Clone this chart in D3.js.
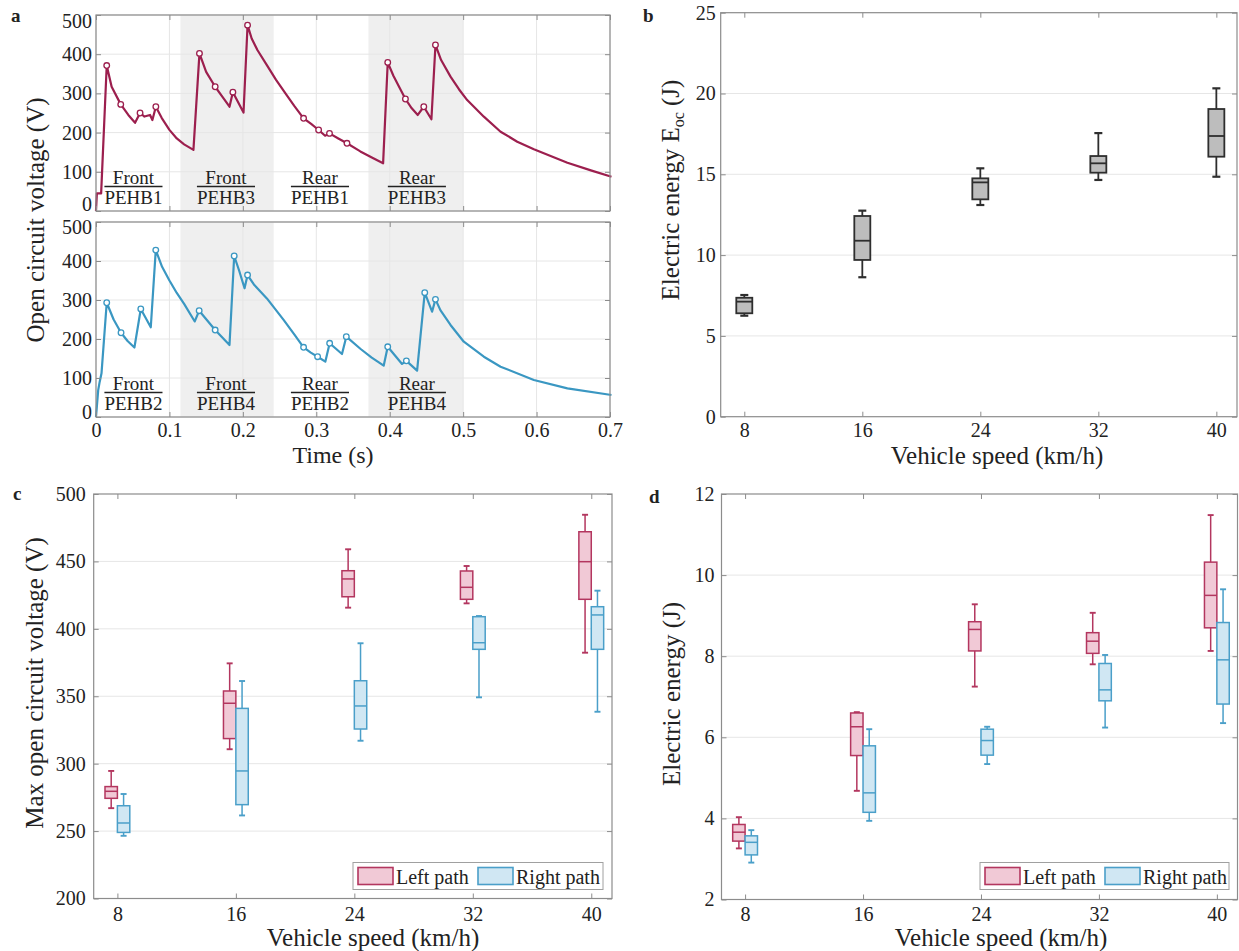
<!DOCTYPE html>
<html>
<head>
<meta charset="utf-8">
<script src="https://cdn.jsdelivr.net/npm/d3@7"></script>
<style>
  body { margin: 0; background: #fff; }
  text { font-family: "Liberation Serif", "Times New Roman", serif; fill: #222; }
</style>
</head>
<body>
<svg id="fig" width="1239" height="951"></svg>
<script>
// ---- panel a: open circuit voltage traces ----
const leftPathTime = [0, 0.0012, 0.007, 0.0146, 0.0213, 0.0337, 0.044, 0.0532, 0.06, 0.066, 0.0736, 0.0768, 0.0815, 0.0896, 0.1, 0.11, 0.12, 0.1327, 0.1409, 0.15, 0.1623, 0.172, 0.1818, 0.1864, 0.2009, 0.2064, 0.212, 0.22, 0.2327, 0.245, 0.258, 0.27, 0.2827, 0.293, 0.3032, 0.312, 0.318, 0.33, 0.3418, 0.36, 0.375, 0.391, 0.3973, 0.405, 0.4214, 0.43, 0.4382, 0.4464, 0.4568, 0.4623, 0.47, 0.4828, 0.4945, 0.5055, 0.5282, 0.551, 0.5737, 0.5963, 0.642, 0.675, 0.702];
const leftPathVolt = [0, 45, 45, 371, 317, 272, 245, 225, 250, 241, 245, 232, 266, 237, 207, 185, 170, 156, 402, 355, 317, 292, 266, 303, 251, 474, 440, 410, 372, 335, 300, 268, 236.5, 222, 206.6, 192, 198, 185, 172.7, 152, 137, 121.6, 379, 345, 285.7, 262, 245, 266, 234, 423.5, 385, 342.7, 310, 283, 240.6, 202.3, 176.8, 157.4, 123.2, 103, 87.5];
const leftMarkTime = [0.0146, 0.0337, 0.06, 0.0815, 0.1409, 0.1623, 0.1864, 0.2064, 0.2827, 0.3032, 0.318, 0.3418, 0.3973, 0.4214, 0.4464, 0.4623];
const leftMarkVolt = [371, 272, 250, 266, 402, 317, 303, 474, 236.5, 206.6, 198, 172.7, 379, 285.7, 266, 423.5];

const rightPathTime = [0, 0.003, 0.005, 0.0075, 0.0146, 0.024, 0.0341, 0.043, 0.0523, 0.061, 0.0746, 0.0814, 0.09, 0.1, 0.11, 0.12, 0.1345, 0.1405, 0.1623, 0.1818, 0.1882, 0.195, 0.2023, 0.2064, 0.215, 0.2327, 0.2555, 0.27, 0.2827, 0.2925, 0.3018, 0.3123, 0.3182, 0.335, 0.3409, 0.36, 0.375, 0.3918, 0.3973, 0.4168, 0.4227, 0.4373, 0.4477, 0.4577, 0.4623, 0.469, 0.4828, 0.5009, 0.5282, 0.551, 0.5963, 0.642, 0.702];
const rightPathVolt = [0, 69, 90, 112, 293, 250, 216, 195, 178, 277, 230, 428, 385, 350, 318, 290, 245, 272.6, 223, 184.6, 412.8, 375, 330, 364, 340, 304, 249, 212, 178.7, 165, 154.6, 141.8, 189, 161.5, 206, 175, 153, 131.6, 180, 136, 144, 118.8, 318.8, 270, 301.7, 274, 236, 193, 154.6, 129, 95, 73.5, 56.4];
const rightMarkTime = [0.0146, 0.0341, 0.061, 0.0814, 0.1405, 0.1623, 0.1882, 0.2064, 0.2827, 0.3018, 0.3182, 0.3409, 0.3973, 0.4227, 0.4477, 0.4623];
const rightMarkVolt = [293, 216, 277, 428, 272.6, 223, 412.8, 364, 178.7, 154.6, 189, 206, 180, 144, 318.8, 301.7];

const shadeSpans = [[0.115, 0.242], [0.371, 0.5]];
const eventTime = [0.051, 0.177, 0.305, 0.437];
const eventSide = ["Front", "Front", "Rear", "Rear"];
const eventTopName = ["PEHB1", "PEHB3", "PEHB1", "PEHB3"];
const eventBottomName = ["PEHB2", "PEHB4", "PEHB2", "PEHB4"];
const timeTicks = [0, 0.1, 0.2, 0.3, 0.4, 0.5, 0.6, 0.7];
const voltTicks = [0, 100, 200, 300, 400, 500];

// ---- panels b-d: box stats [min, q1, median, q3, max] per speed ----
const speeds = [8, 16, 24, 32, 40];
const energyOc = [[6.25, 6.4, 7.12, 7.36, 7.53], [8.63, 9.7, 10.89, 12.42, 12.75], [13.1, 13.45, 14.5, 14.75, 15.37], [14.65, 15.1, 15.68, 16.13, 17.55], [14.85, 16.09, 17.37, 19.04, 20.32]];
const maxVoltLeft = [[267, 274.3, 279.5, 283, 294.6], [310.7, 318.6, 344.8, 353.9, 374.4], [415.7, 423.8, 437, 443.1, 459], [418.9, 421.9, 430.8, 442.9, 446.6], [382.3, 421.9, 449.8, 472, 484.6]];
const maxVoltRight = [[246.5, 249, 256, 268.8, 277.5], [261.6, 269.6, 294.6, 341, 361.3], [317, 325.7, 342.8, 361.5, 389.3], [349.2, 384.8, 389.7, 409, 409.5], [338.5, 384.8, 410.3, 416.4, 428.3]];
const energyLeft = [[3.26, 3.44, 3.66, 3.85, 4.03], [4.68, 5.55, 6.26, 6.6, 6.62], [7.25, 8.13, 8.66, 8.85, 9.28], [7.8, 8.07, 8.37, 8.58, 9.07], [8.13, 8.7, 9.5, 10.32, 11.48]];
const energyRight = [[2.91, 3.1, 3.41, 3.57, 3.71], [3.94, 4.15, 4.63, 5.79, 6.2], [5.34, 5.56, 5.92, 6.2, 6.26], [6.24, 6.9, 7.17, 7.82, 8.03], [6.35, 6.82, 7.91, 8.83, 9.65]];
const legendNames = ["Left path", "Right path"];

const red = "#9c1f4e", blue = "#3a97c2";
const pinkFill = "#f1c9d6", pinkLine = "#b3365f";
const cyanFill = "#d0e7f3", cyanLine = "#4a9fc9";
const frameColor = "#8c8c8c", gridColor = "#e6e6e6";

const svg = d3.select("#fig");

function gridY(x, y, ticks) {
  const [l, r] = x.range();
  svg.append("g").selectAll("line").data(ticks).join("line")
    .attr("x1", l).attr("x2", r)
    .attr("y1", d => y(d)).attr("y2", d => y(d))
    .attr("stroke", gridColor);
}

function gridX(x, y, ticks) {
  const [b, t] = y.range();
  svg.append("g").selectAll("line").data(ticks).join("line")
    .attr("y1", b).attr("y2", t)
    .attr("x1", d => x(d)).attr("x2", d => x(d))
    .attr("stroke", gridColor);
}

// MATLAB-like box: ticks pointing inward on all four sides
function axesBox(x, y, xTicks, yTicks, o) {
  const [l, r] = x.range(), [b, t] = y.range();
  const g = svg.append("g");
  const left = g.append("g").attr("transform", `translate(${l},0)`)
    .call(d3.axisLeft(y).tickValues(yTicks).tickSize(-5).tickPadding(o.yPad).tickFormat(d3.format("d")));
  g.append("g").attr("transform", `translate(${r},0)`)
    .call(d3.axisRight(y).tickValues(yTicks).tickSize(-5).tickFormat(""));
  g.append("g").attr("transform", `translate(0,${t})`)
    .call(d3.axisTop(x).tickValues(xTicks).tickSize(-5).tickFormat(""));
  g.append("g").attr("transform", `translate(0,${b})`)
    .call(d3.axisBottom(x).tickValues(xTicks).tickSize(-5).tickPadding(o.xPad)
      .tickFormat(o.xLabels === false ? "" : (o.xFmt || d3.format("d"))));
  g.selectAll("g").attr("font-size", 20).attr("font-family", null);
  g.selectAll(".domain").remove();
  g.selectAll(".tick line").attr("stroke", frameColor);
  g.selectAll(".tick text").attr("fill", "#222");
  if (o.edge) {
    // end labels pulled inside the axis range, as in the source figure
    const lo = yTicks[0], hi = yTicks[yTicks.length - 1];
    left.selectAll(".tick text").filter(d => d === lo).attr("transform", `translate(0,${-o.edge[0]})`);
    left.selectAll(".tick text").filter(d => d === hi).attr("transform", `translate(0,${o.edge[1]})`);
  }
  g.append("rect")
    .attr("x", l).attr("y", t).attr("width", r - l).attr("height", b - t)
    .attr("fill", "none").attr("stroke", frameColor).attr("stroke-width", 1.2);
}

function panelLetter(txt, px, py) {
  svg.append("text").attr("x", px).attr("y", py)
    .attr("font-size", 19).attr("font-weight", "bold").text(txt);
}

function yTitle(txt, px, py) {
  return svg.append("text")
    .attr("transform", `translate(${px},${py}) rotate(-90)`)
    .attr("text-anchor", "middle").attr("font-size", 25).text(txt);
}

function xTitle(txt, px, py, size) {
  svg.append("text").attr("x", px).attr("y", py)
    .attr("text-anchor", "middle").attr("font-size", size || 25).text(txt);
}

// ================= panel a =================
const xa = d3.scaleLinear().domain([0, 0.7]).range([96, 610]);
const yaTop = d3.scaleLinear().domain([0, 500]).range([211, 15]);
const yaBot = d3.scaleLinear().domain([0, 500]).range([417, 222]);

function tracePanel(y, times, volts, markT, markV, color, names, showX, edge) {
  const [b, t] = y.range();
  svg.append("g").selectAll("rect").data(shadeSpans).join("rect")
    .attr("x", d => xa(d[0])).attr("width", d => xa(d[1]) - xa(d[0]))
    .attr("y", t).attr("height", b - t)
    .attr("fill", "#efefef");
  gridX(xa, y, timeTicks);
  gridY(xa, y, voltTicks);

  const pts = times.map((tt, i) => [tt, volts[i]]);
  svg.append("path").datum(pts)
    .attr("fill", "none").attr("stroke", color).attr("stroke-width", 2.2)
    .attr("stroke-linejoin", "round")
    .attr("d", d3.line().x(d => xa(d[0])).y(d => y(d[1])));

  svg.append("g").selectAll("circle").data(markT.map((tt, i) => [tt, markV[i]])).join("circle")
    .attr("cx", d => xa(d[0])).attr("cy", d => y(d[1])).attr("r", 2.8)
    .attr("fill", "#fff").attr("stroke", color).attr("stroke-width", 1.3);

  // Front/Rear over PEHB labels
  eventTime.forEach((tt, i) => {
    const cx = xa(tt);
    svg.append("text").attr("x", cx).attr("y", b - 27).attr("text-anchor", "middle")
      .attr("font-size", 19).text(eventSide[i]);
    const nm = svg.append("text").attr("x", cx).attr("y", b - 7).attr("text-anchor", "middle")
      .attr("font-size", 19).text(names[i]);
    const w = nm.node().getComputedTextLength();
    svg.append("line").attr("x1", cx - w / 2).attr("x2", cx + w / 2)
      .attr("y1", b - 24.5).attr("y2", b - 24.5)
      .attr("stroke", "#222").attr("stroke-width", 1.3);
  });

  axesBox(xa, y, timeTicks, voltTicks, {
    yPad: 4, xPad: 6, xLabels: showX, edge: edge,
    xFmt: d => d === 0 ? "0" : d3.format(".1f")(d)
  });
}

tracePanel(yaTop, leftPathTime, leftPathVolt, leftMarkTime, leftMarkVolt, red, eventTopName, false, [7, 6]);
tracePanel(yaBot, rightPathTime, rightPathVolt, rightMarkTime, rightMarkVolt, blue, eventBottomName, true, [4.5, 5]);
panelLetter("a", 11, 22);
yTitle("Open circuit voltage (V)", 44, 220);
xTitle("Time (s)", 333, 463, 24);

// ================= box plot helper =================
function drawBoxes(x, y, stats, offset, width, fill, stroke, sw, capW) {
  const g = svg.append("g");
  const rows = stats.map((s, i) => ({ sp: speeds[i], s: s }));
  const cx = d => x(d.sp) + offset;
  g.selectAll(".wh").data(rows).join("line")
    .attr("x1", cx).attr("x2", cx)
    .attr("y1", d => y(d.s[0])).attr("y2", d => y(d.s[4]))
    .attr("stroke", stroke).attr("stroke-width", sw);
  [0, 4].forEach(k => {
    g.selectAll(".cap" + k).data(rows).join("line")
      .attr("x1", d => cx(d) - capW / 2).attr("x2", d => cx(d) + capW / 2)
      .attr("y1", d => y(d.s[k])).attr("y2", d => y(d.s[k]))
      .attr("stroke", stroke).attr("stroke-width", sw + 0.4);
  });
  g.selectAll("rect").data(rows).join("rect")
    .attr("x", d => cx(d) - width / 2).attr("width", width)
    .attr("y", d => y(d.s[3])).attr("height", d => y(d.s[1]) - y(d.s[3]))
    .attr("fill", fill).attr("stroke", stroke).attr("stroke-width", sw);
  g.selectAll(".med").data(rows).join("line")
    .attr("x1", d => cx(d) - width / 2).attr("x2", d => cx(d) + width / 2)
    .attr("y1", d => y(d.s[2])).attr("y2", d => y(d.s[2]))
    .attr("stroke", stroke).attr("stroke-width", sw);
}

function legend(x0, y0, w) {
  const g = svg.append("g");
  g.append("rect").attr("x", x0).attr("y", y0).attr("width", w).attr("height", 27)
    .attr("fill", "#fff").attr("stroke", "#a0a0a0");
  const fills = [pinkFill, cyanFill], lines = [pinkLine, cyanLine];
  const offs = [5, 125];
  legendNames.forEach((nm, i) => {
    g.append("rect").attr("x", x0 + offs[i]).attr("y", y0 + 5).attr("width", 35).attr("height", 17)
      .attr("fill", fills[i]).attr("stroke", lines[i]).attr("stroke-width", 1.6);
    g.append("text").attr("x", x0 + offs[i] + 38).attr("y", y0 + 21)
      .attr("font-size", 20).text(nm);
  });
}

// ================= panel b =================
const xb = d3.scaleLinear().domain([6.4, 41.4]).range([720.7, 1237]);
const yb = d3.scaleLinear().domain([0, 25]).range([416.7, 12.7]);
gridY(xb, yb, [5, 10, 15, 20]);
drawBoxes(xb, yb, energyOc, 0, 16, "#bdbdbd", "#2e2e2e", 1.8, 8);
axesBox(xb, yb, speeds, [0, 5, 10, 15, 20, 25], { yPad: 5, xPad: 6 });
panelLetter("b", 643, 22);
const tb = yTitle("Electric energy E", 679, 190);
tb.append("tspan").attr("font-size", 16).attr("dy", 5).text("oc");
tb.append("tspan").attr("dy", -5).text(" (J)");
xTitle("Vehicle speed (km/h)", 997, 464);

// ================= panel c =================
const xc = d3.scaleLinear().domain([6.4, 41.4]).range([93.7, 612]);
const yc = d3.scaleLinear().domain([200, 500]).range([898.5, 494]);
gridY(xc, yc, [250, 300, 350, 400, 450]);
drawBoxes(xc, yc, maxVoltLeft, -6.2, 12.4, pinkFill, pinkLine, 1.5, 6);
drawBoxes(xc, yc, maxVoltRight, 6.2, 12.4, cyanFill, cyanLine, 1.5, 6);
legend(353, 862.5, 250);
axesBox(xc, yc, speeds, [200, 250, 300, 350, 400, 450, 500], { yPad: 8, xPad: 8 });
panelLetter("c", 13, 500);
yTitle("Max open circuit voltage (V)", 43, 683);
xTitle("Vehicle speed (km/h)", 373, 946);

// ================= panel d =================
const xd = d3.scaleLinear().domain([6.4, 41.4]).range([721.5, 1237.5]);
const yd = d3.scaleLinear().domain([2, 12]).range([899.5, 494]);
gridY(xd, yd, [4, 6, 8, 10]);
drawBoxes(xd, yd, energyLeft, -6.2, 12.4, pinkFill, pinkLine, 1.5, 6);
drawBoxes(xd, yd, energyRight, 6.2, 12.4, cyanFill, cyanLine, 1.5, 6);
legend(980, 862.5, 249);
axesBox(xd, yd, speeds, [2, 4, 6, 8, 10, 12], { yPad: 7, xPad: 7 });
panelLetter("d", 649, 503);
yTitle("Electric energy (J)", 680, 694);
xTitle("Vehicle speed (km/h)", 1001, 946);
</script>
</body>
</html>
